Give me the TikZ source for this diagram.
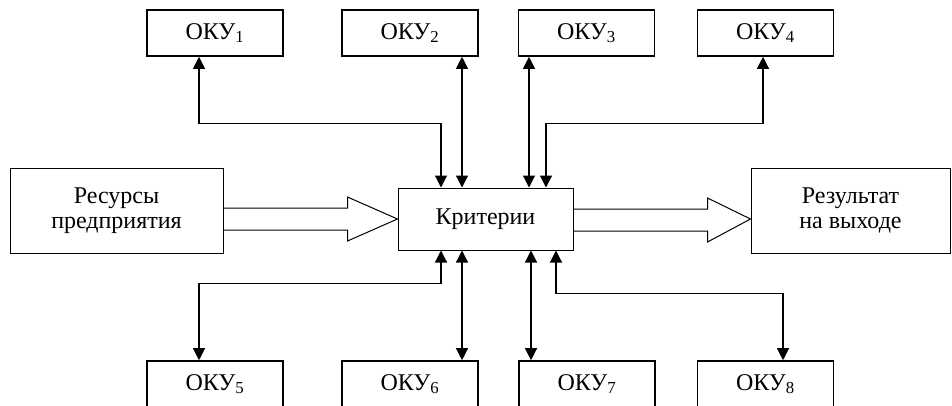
\documentclass[tikz,border=0pt]{standalone}
\usepackage{fontspec}
\setmainfont{Liberation Serif}
\usetikzlibrary{arrows.meta,calc}
\begin{document}
\begin{tikzpicture}[x=1pt,y=-1pt,
  oku/.style={draw,line width=1.6pt,minimum width=136pt,minimum height=46pt,inner sep=0pt,font=\fontsize{24}{26}\selectfont},
  big/.style={draw,line width=1pt,inner sep=0pt,align=center,font=\fontsize{24}{25}\selectfont},
  dbl/.style={line width=1.2pt,{Triangle[length=12pt,width=12pt]}-{Triangle[length=12pt,width=12pt]}},
  fat/.style={line width=1pt,line join=miter}]
\useasboundingbox (0,0) rectangle (952,405);
\clip (0,0) rectangle (952,405);
% top boxes
\node[oku] (k1) at (215,33) {ОКУ\textsubscript{1}};
\node[oku] (k2) at (410,33) {ОКУ\textsubscript{2}};
\node[oku] (k3) at (586.5,33) {ОКУ\textsubscript{3}};
\node[oku] (k4) at (765.5,33) {ОКУ\textsubscript{4}};
% bottom boxes
\node[oku] (k5) at (215,384) {ОКУ\textsubscript{5}};
\node[oku] (k6) at (410,384) {ОКУ\textsubscript{6}};
\node[oku] (k7) at (587,384) {ОКУ\textsubscript{7}};
\node[oku] (k8) at (765.5,384) {ОКУ\textsubscript{8}};
% middle
\node[big,minimum width=213pt,minimum height=85pt] (res) at (116.5,210.5) {Ресурсы\\предприятия};
\node[big,minimum width=175pt,minimum height=62pt] (kr) at (485.5,219) {Критерии};
\node[big,minimum width=199pt,minimum height=85pt] (out) at (850.5,210.5) {Результат\\на выходе};
% fat arrows
\draw[fat] ($(res.east|-kr.west)+(0,-11)$) -- ($(kr.west)+(-50,-11)$) -- ($(kr.west)+(-50,-22)$) -- (kr.west)
  -- ($(kr.west)+(-50,22)$) -- ($(kr.west)+(-50,11)$) -- ($(res.east|-kr.west)+(0,11)$);
\coordinate (tip) at (out.west|-kr.east);
\draw[fat] ($(kr.east)+(0,-10)$) -- ($(tip)+(-43,-10)$) -- ($(tip)+(-43,-21)$) -- (tip)
  -- ($(tip)+(-43,23)$) -- ($(tip)+(-43,12)$) -- ($(kr.east)+(0,12)$);
% top connectors
\draw[dbl] ([xshift=-16pt]k1.south) -- ++(0,67) -| ([xshift=-44.5pt]kr.north);
\draw[dbl] ([xshift=52pt]k2.south) -- ([xshift=-23.5pt]kr.north);
\draw[dbl] ([xshift=-57.5pt]k3.south) -- ([xshift=43.5pt]kr.north);
\draw[dbl] ([xshift=-2.5pt]k4.south) -- ++(0,67) -| ([xshift=60.5pt]kr.north);
% bottom connectors
\draw[dbl] ([xshift=-44.5pt]kr.south) -- ++(0,33) -| ([xshift=-16pt]k5.north);
\draw[dbl] ([xshift=-23.5pt]kr.south) -- ([xshift=52pt]k6.north);
\draw[dbl] ([xshift=45.5pt]kr.south) -- ([xshift=-56pt]k7.north);
\draw[dbl] ([xshift=70.5pt]kr.south) -- ++(0,43) -| ([xshift=17.5pt]k8.north);
\end{tikzpicture}
\end{document}
